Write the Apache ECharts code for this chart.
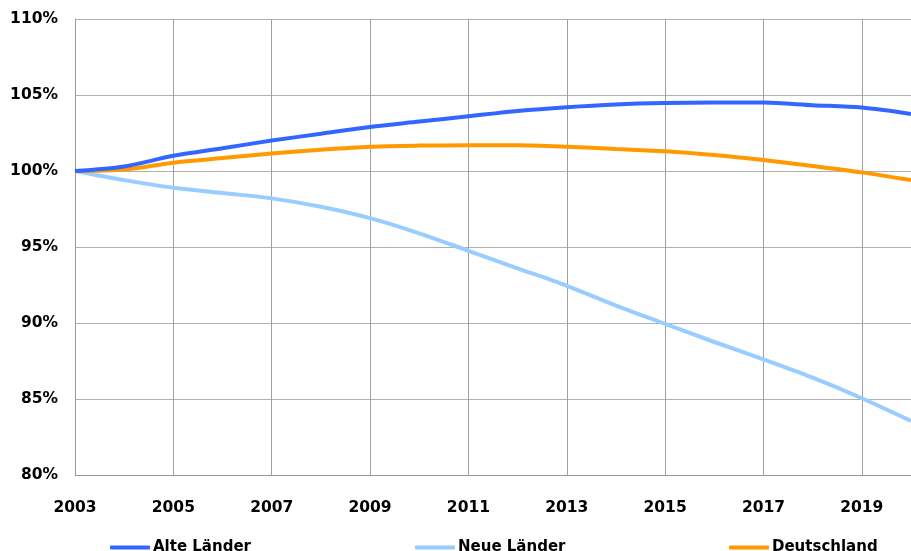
<!DOCTYPE html>
<html>
<head>
<meta charset="utf-8">
<script src="https://cdn.jsdelivr.net/npm/echarts@6/dist/echarts.min.js"></script>
<style>html,body{margin:0;padding:0;background:#fff;}#c{width:911px;height:551px;}</style>
</head>
<body>
<div id="c"></div>
<script>
var years = [2003,2004,2005,2006,2007,2008,2009,2010,2011,2012,2013,2014,2015,2016,2017,2018,2019,2020];
var alteLaender = [100,100.3,101.0,101.5,102.0,102.45,102.9,103.25,103.6,103.95,104.2,104.38,104.47,104.5,104.5,104.33,104.17,103.75];
var neueLaender = [100,99.4,98.9,98.55,98.2,97.65,96.9,95.9,94.75,93.6,92.45,91.15,89.95,88.75,87.6,86.4,85.05,83.55];
var deutschland = [100,100.1,100.55,100.85,101.15,101.4,101.6,101.67,101.69,101.69,101.6,101.45,101.3,101.05,100.72,100.33,99.91,99.4];
var seriesNames = ['Alte Länder','Neue Länder','Deutschland'];
var colors = ['#3366FF','#99CCFF','#FF9900'];

function pairs(arr){ return years.map(function(y,i){ return [y, arr[i]]; }); }
var font = 'DejaVu Sans, sans-serif';
var chart = echarts.init(document.getElementById('c'), null, {renderer:'canvas'});
var data = [alteLaender, neueLaender, deutschland];
var legendLeft = [105, 410, 724];
chart.setOption({
  animation:false,
  backgroundColor:'#fff',
  grid:{left:75, right:-6, top:19, bottom:76},
  xAxis:{type:'value', min:2003, max:2020, interval:2,
    axisLine:{show:true, lineStyle:{color:'#999', width:1}},
    axisTick:{show:false},
    splitLine:{show:true, lineStyle:{color:'#a0a0a0', width:1}},
    axisLabel:{margin:25, color:'#000', fontWeight:'bold', fontSize:15.5, fontFamily:font, showMaxLabel:false,
      formatter:function(v){ return ((v-2003)%2===0) ? String(v) : ''; }}
  },
  yAxis:{type:'value', min:80, max:110, interval:5,
    axisLine:{show:true, lineStyle:{color:'#999', width:1}},
    axisTick:{show:false},
    splitLine:{show:true, lineStyle:{color:'#b0b0b0', width:1}},
    axisLabel:{margin:17, color:'#000', fontWeight:'bold', fontSize:15.5, fontFamily:font, formatter:'{value}%'}
  },
  legend: seriesNames.map(function(n,i){ return {
    data:[n], left:legendLeft[i], top:535, itemWidth:40, itemHeight:4, icon:'roundRect', itemGap:0,
    textStyle:{color:'#000', fontWeight:'bold', fontSize:15, fontFamily:font, padding:[0,0,0,-2]}
  };}),
  series: seriesNames.map(function(n,i){ return {
    name:n, type:'line', data:pairs(data[i]), showSymbol:false, smooth:0.3, clip:true,
    lineStyle:{color:colors[i], width:4}, itemStyle:{color:colors[i]}, z:3-i+ (i===2?1:0)
  };})
});
</script>
</body>
</html>
